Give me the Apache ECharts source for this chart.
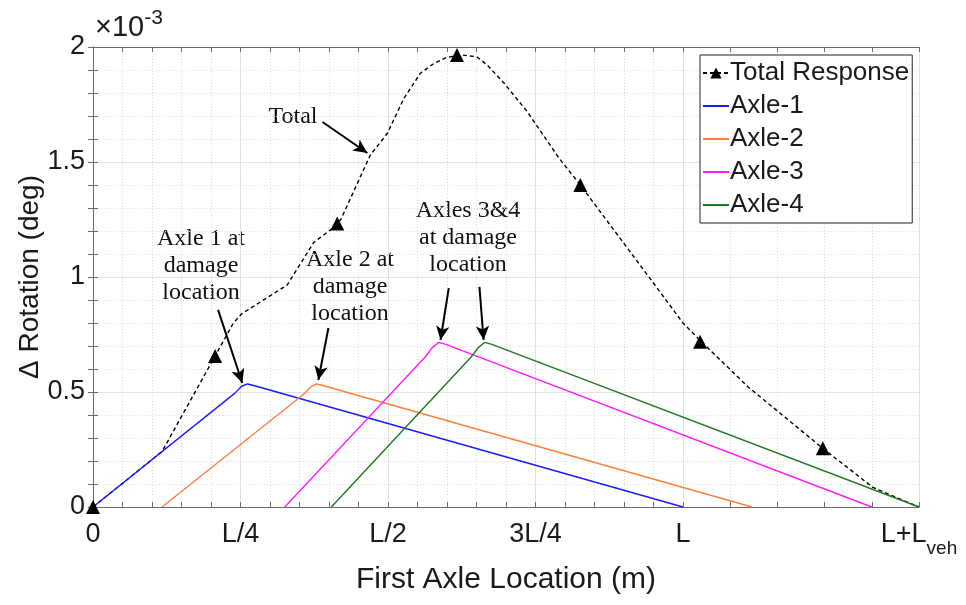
<!DOCTYPE html>
<html>
<head>
<meta charset="utf-8">
<script src="https://cdn.jsdelivr.net/npm/echarts@6/dist/echarts.min.js"></script>
<style>
  html, body { margin: 0; padding: 0; background: #fff; }
  #main { width: 966px; height: 605px; }
</style>
</head>
<body>
<div id="main"></div>
<script>
// x in units of the span L, y in units of 1e-3 deg
var xTickValues = [0, 0.25, 0.5, 0.75, 1, 1.4];
var xTickLabels = ['0', 'L/4', 'L/2', '3L/4', 'L', 'L+L_veh'];
var xMinorTicks = [0, 0.05, 0.1, 0.15, 0.2, 0.25, 0.3, 0.35, 0.4, 0.45, 0.5, 0.55, 0.6, 0.65, 0.7,
                   0.75, 0.8, 0.85, 0.9, 0.95, 1, 1.08, 1.16, 1.24, 1.32, 1.4];
var yTickLabels = ['0', '0.5', '1', '1.5', '2'];

var totalX = [0, 0.117, 0.238, 0.252, 0.329, 0.374, 0.405, 0.420, 0.470, 0.499, 0.527, 0.555, 0.578,
              0.600, 0.625, 0.650, 0.668, 0.697, 0.736, 0.790, 0.826, 0.946, 1.0, 1.031, 1.110, 1.237, 1.322, 1.4];
var totalY = [0, 0.241, 0.80, 0.84, 0.965, 1.15, 1.21, 1.25, 1.53, 1.625, 1.777, 1.886, 1.929,
              1.955, 1.965, 1.958, 1.922, 1.842, 1.719, 1.516, 1.40, 0.987, 0.80, 0.719, 0.523, 0.255, 0.085, 0];
var markerX = [0, 0.207, 0.414, 0.617, 0.826, 1.029, 1.237];
var markerY = [0, 0.657, 1.233, 1.965, 1.40, 0.719, 0.255];

var axle1X = [0, 0.24, 0.252, 0.262, 0.274, 1.0];
var axle1Y = [0, 0.494, 0.525, 0.535, 0.527, 0];
var axle2X = [0.117, 0.357, 0.369, 0.379, 0.391, 1.117];
var axle2Y = [0, 0.49, 0.522, 0.535, 0.527, 0];
var axle3X = [0.325, 0.563, 0.575, 0.586, 0.598, 1.32];
var axle3Y = [0, 0.652, 0.693, 0.716, 0.707, 0];
var axle4X = [0.404, 0.641, 0.653, 0.664, 0.676, 1.4];
var axle4Y = [0, 0.652, 0.693, 0.716, 0.707, 0];

// annotation arrows [x1, y1, x2, y2] in data units
var arrows = [
    [0.389, 1.674, 0.465, 1.539],
    [0.212, 0.857, 0.253, 0.539],
    [0.399, 0.778, 0.382, 0.552],
    [0.603, 0.952, 0.589, 0.726],
    [0.655, 0.957, 0.662, 0.726]
];

function zip(xs, ys) {
    var out = [];
    for (var i = 0; i < xs.length; i++) out.push([xs[i], ys[i]]);
    return out;
}

var sansFont = '"Liberation Sans", Arial, sans-serif';
var serifFont = '"Liberation Serif", "Times New Roman", serif';
var axisColor = '#6b6b6b';
var textColor = '#1a1a1a';

var myChart = echarts.init(document.getElementById('main'));

var arrowData = arrows.map(function (a) {
    return [{ coord: [a[0], a[1]] }, { coord: [a[2], a[3]] }];
});

// axle entries: line only in the legend, no marker
var legendData = ['Total Response'].concat(['Axle-1', 'Axle-2', 'Axle-3', 'Axle-4'].map(function (n) {
    return { name: n, itemStyle: { opacity: 0 } };
}));

var option = {
    animation: false,
    backgroundColor: '#fff',
    grid: { left: 93, right: 47, top: 47, bottom: 98, containLabel: false },
    legend: {
        orient: 'vertical',
        left: 700,
        top: 55,
        padding: [5, 3, 5, 2],
        itemGap: 7,
        itemWidth: 26,
        itemHeight: 14,
        borderColor: '#222',
        borderWidth: 1,
        backgroundColor: '#fff',
        textStyle: { fontFamily: sansFont, fontSize: 26, color: textColor, padding: [0, 0, 0, -4] },
        data: legendData
    },
    xAxis: [
        {
            type: 'value', position: 'bottom', min: 0, max: 1.4,
            axisLine: { show: true, lineStyle: { color: axisColor } },
            axisTick: { show: false, customValues: xTickValues },
            axisLabel: {
                customValues: xTickValues,
                margin: 14,
                fontFamily: sansFont, fontSize: 27, color: textColor,
                formatter: function (v) {
                    var i = xTickValues.indexOf(v);
                    var s = i >= 0 ? xTickLabels[i] : '';
                    if (s.indexOf('_') >= 0) {
                        var p = s.split('_');
                        return '{n|' + p[0] + '}{s|' + p[1] + '}';
                    }
                    return s;
                },
                rich: {
                    n: { fontFamily: sansFont, fontSize: 27, color: textColor, padding: [0, 0, 14, 0] },
                    s: { fontFamily: sansFont, fontSize: 19, color: textColor, padding: [14, 0, 0, 0] }
                }
            },
            splitLine: { show: true, lineStyle: { color: '#e3e3e3', width: 1 } },
            name: 'First Axle Location (m)',
            nameLocation: 'middle',
            nameGap: 58,
            nameTextStyle: { fontFamily: sansFont, fontSize: 30, color: textColor }
        },
        {
            type: 'value', position: 'bottom', min: 0, max: 1.4,
            axisLine: { show: false },
            axisTick: { show: true, inside: true, length: 5, customValues: xMinorTicks, lineStyle: { color: axisColor } },
            axisLabel: { show: false },
            splitLine: { show: true, lineStyle: { color: '#dcdcdc', type: [1, 2], width: 1 } }
        },
        {
            type: 'value', position: 'top', min: 0, max: 1.4,
            axisLine: { show: true, lineStyle: { color: axisColor } },
            axisTick: { show: true, inside: true, length: 5, customValues: xMinorTicks, lineStyle: { color: axisColor } },
            axisLabel: { show: false },
            splitLine: { show: false }
        }
    ],
    yAxis: [
        {
            type: 'value', position: 'left', min: 0, max: 2, interval: 0.5,
            axisLine: { show: true, lineStyle: { color: axisColor } },
            axisTick: { show: true, inside: true, length: 5, lineStyle: { color: axisColor } },
            minorTick: { show: true, splitNumber: 5, length: 5, lineStyle: { color: axisColor } },
            axisLabel: {
                margin: 8, fontFamily: sansFont, fontSize: 27, color: textColor,
                formatter: function (v) { return yTickLabels[Math.round(v / 0.5)]; }
            },
            splitLine: { show: true, lineStyle: { color: '#e3e3e3', width: 1 } },
            minorSplitLine: { show: true, lineStyle: { color: '#dcdcdc', type: [1, 2], width: 1 } },
            name: '\u0394 Rotation (deg)',
            nameLocation: 'middle',
            nameGap: 49,
            nameMoveOverlap: false,
            nameTextStyle: { fontFamily: sansFont, fontSize: 28, color: textColor }
        },
        {
            type: 'value', position: 'right', min: 0, max: 2, interval: 0.5,
            axisLine: { show: true, lineStyle: { color: axisColor } },
            axisTick: { show: true, inside: true, length: 5, lineStyle: { color: axisColor } },
            minorTick: { show: true, splitNumber: 5, length: 5, lineStyle: { color: axisColor } },
            axisLabel: { show: false },
            splitLine: { show: false }
        }
    ],
    graphic: [
        {
            type: 'text', left: 95, top: 8,
            style: {
                text: '{a|\u00d710}{b|-3}',
                rich: {
                    a: { fontFamily: sansFont, fontSize: 29, fill: textColor },
                    b: { fontFamily: sansFont, fontSize: 21, fill: textColor, padding: [0, 0, 18, 0] }
                }
            }
        },
        {
            type: 'text', x: 293, y: 117,
            style: { text: 'Total', font: '24px ' + serifFont, fill: '#111', align: 'center', verticalAlign: 'middle' }
        },
        {
            type: 'text', x: 201, y: 266,
            style: { text: 'Axle 1 at\ndamage\nlocation', font: '24px ' + serifFont, lineHeight: 27, fill: '#111', align: 'center', verticalAlign: 'middle' }
        },
        {
            type: 'text', x: 350, y: 287,
            style: { text: 'Axle 2 at\ndamage\nlocation', font: '24px ' + serifFont, lineHeight: 27, fill: '#111', align: 'center', verticalAlign: 'middle' }
        },
        {
            type: 'text', x: 468, y: 238,
            style: { text: 'Axles 3&4\nat damage\nlocation', font: '24px ' + serifFont, lineHeight: 27, fill: '#111', align: 'center', verticalAlign: 'middle' }
        }
    ],
    series: [
        {
            name: 'Total Response',
            type: 'line',
            xAxisIndex: 0, yAxisIndex: 0,
            data: zip(totalX, totalY),
            symbol: 'triangle',
            symbolSize: 13,
            showSymbol: false,
            itemStyle: { color: '#000' },
            lineStyle: { color: '#000', width: 1.4, type: [4, 3] },
            z: 2
        },
        {
            name: 'markers',
            type: 'scatter',
            xAxisIndex: 0, yAxisIndex: 0,
            data: zip(markerX, markerY),
            symbol: 'triangle',
            symbolSize: 14,
            clip: false,
            itemStyle: { color: '#000', opacity: 1 },
            z: 5,
            markLine: {
                silent: true,
                symbol: ['none', 'arrow'],
                symbolSize: [10, 14],
                label: { show: false },
                lineStyle: { color: '#000', width: 2, type: 'solid' },
                data: arrowData
            }
        },
        {
            name: 'Axle-1', type: 'line', data: zip(axle1X, axle1Y), symbol: 'none',
            itemStyle: { color: '#1a1aff' }, lineStyle: { color: '#1a1aff', width: 1.4 }, z: 3
        },
        {
            name: 'Axle-2', type: 'line', data: zip(axle2X, axle2Y), symbol: 'none',
            itemStyle: { color: '#ff7f3a' }, lineStyle: { color: '#ff7f3a', width: 1.4 }, z: 3
        },
        {
            name: 'Axle-3', type: 'line', data: zip(axle3X, axle3Y), symbol: 'none',
            itemStyle: { color: '#ff1aff' }, lineStyle: { color: '#ff1aff', width: 1.4 }, z: 3
        },
        {
            name: 'Axle-4', type: 'line', data: zip(axle4X, axle4Y), symbol: 'none',
            itemStyle: { color: '#1f7a1f' }, lineStyle: { color: '#1f7a1f', width: 1.4 }, z: 3
        }
    ]
};

myChart.setOption(option);
</script>
</body>
</html>
